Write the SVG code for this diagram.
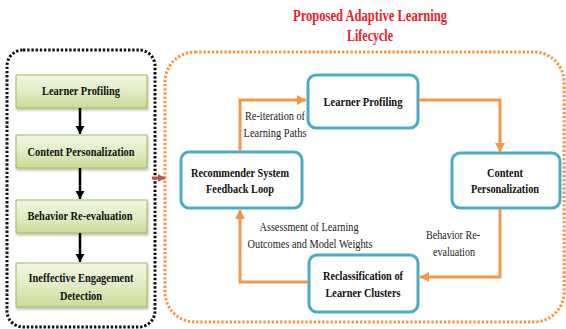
<svg xmlns="http://www.w3.org/2000/svg" width="566" height="329" viewBox="0 0 566 329">
  <defs>
    <linearGradient id="greenFill" x1="0" y1="0" x2="0" y2="1">
      <stop offset="0" stop-color="#f2f7e4"/>
      <stop offset="0.5" stop-color="#e1ecc4"/>
      <stop offset="1" stop-color="#c9dc95"/>
    </linearGradient>
    <filter id="shadow" x="-10%" y="-10%" width="130%" height="140%">
      <feDropShadow dx="1" dy="2" stdDeviation="1.2" flood-color="#000" flood-opacity="0.25"/>
    </filter>
    <marker id="arrowOrange" markerUnits="userSpaceOnUse" markerWidth="12" markerHeight="12" refX="9" refY="5" orient="auto">
      <path d="M0,0 L9,5 L0,10 Z" fill="#f79646"/>
    </marker>
    <marker id="arrowBlack" markerUnits="userSpaceOnUse" markerWidth="10" markerHeight="10" refX="8" refY="4.5" orient="auto">
      <path d="M0,0 L8,4.5 L0,9 Z" fill="#000"/>
    </marker>
    <marker id="arrowRed" markerUnits="userSpaceOnUse" markerWidth="10" markerHeight="10" refX="7" refY="4" orient="auto">
      <path d="M0,0 L7,4 L0,8 Z" fill="#c0504d"/>
    </marker>
  </defs>
  <style>
    .frame-black { fill: none; stroke: #111; stroke-width: 3; stroke-dasharray: 2.4 1.8; }
    .frame-orange { fill: none; stroke: #f79646; stroke-width: 3; stroke-dasharray: 2.4 1.8; }
    .step { fill: url(#greenFill); stroke: #9bbb59; stroke-width: 1; filter: url(#shadow); }
    .stage { fill: #fff; stroke: #4bacc6; stroke-width: 3; }
    .bold { font-family: "Liberation Serif", "Times New Roman", serif; font-weight: bold; font-size: 13px; fill: #111; text-anchor: middle; }
    .label { font-family: "Liberation Serif", "Times New Roman", serif; font-size: 13px; fill: #222; text-anchor: middle; }
    .title { font-family: "Liberation Serif", "Times New Roman", serif; font-weight: bold; font-size: 16px; fill: #e8202a; text-anchor: middle; }
    .flow { fill: none; stroke: #f79646; stroke-width: 3; marker-end: url(#arrowOrange); }
    .down { fill: none; stroke: #000; stroke-width: 2.5; marker-end: url(#arrowBlack); }
  </style>

  <!-- Title -->
  <text class="title" x="370" y="21" textLength="154" lengthAdjust="spacingAndGlyphs">Proposed Adaptive Learning</text>
  <text class="title" x="370" y="41" textLength="46" lengthAdjust="spacingAndGlyphs">Lifecycle</text>

  <!-- Frames -->
  <rect class="frame-black" x="7" y="50" width="148" height="277" rx="16"/>
  <rect class="frame-orange" x="165" y="52" width="399" height="270" rx="30"/>

  <!-- Existing linear process -->
  <g id="step-learner-profiling">
    <rect class="step" x="16" y="75" width="131" height="33"/>
    <text class="bold" x="81" y="95" textLength="78" lengthAdjust="spacingAndGlyphs">Learner Profiling</text>
  </g>
  <g id="step-content-personalization">
    <rect class="step" x="16" y="135" width="131" height="33"/>
    <text class="bold" x="81" y="156" textLength="107" lengthAdjust="spacingAndGlyphs">Content Personalization</text>
  </g>
  <g id="step-behavior-reevaluation">
    <rect class="step" x="16" y="200" width="131" height="33"/>
    <text class="bold" x="80" y="220" textLength="105" lengthAdjust="spacingAndGlyphs">Behavior Re-evaluation</text>
  </g>
  <g id="step-engagement-detection">
    <rect class="step" x="16" y="263" width="131" height="44"/>
    <text class="bold" x="81" y="282" textLength="105" lengthAdjust="spacingAndGlyphs">Ineffective Engagement</text>
    <text class="bold" x="81" y="300" textLength="42" lengthAdjust="spacingAndGlyphs">Detection</text>
  </g>

  <!-- Adaptive lifecycle stages -->
  <g id="stage-learner-profiling">
    <rect class="stage" x="308" y="75" width="110" height="53" rx="8"/>
    <text class="bold" x="363" y="106" textLength="79" lengthAdjust="spacingAndGlyphs">Learner Profiling</text>
  </g>
  <g id="stage-content-personalization">
    <rect class="stage" x="452" y="153" width="108" height="55" rx="8"/>
    <text class="bold" x="505" y="177" textLength="36" lengthAdjust="spacingAndGlyphs">Content</text>
    <text class="bold" x="505" y="193" textLength="68" lengthAdjust="spacingAndGlyphs">Personalization</text>
  </g>
  <g id="stage-reclassification">
    <rect class="stage" x="309" y="255" width="109" height="57" rx="8"/>
    <text class="bold" x="363" y="280" textLength="80" lengthAdjust="spacingAndGlyphs">Reclassification of</text>
    <text class="bold" x="363" y="297" textLength="75" lengthAdjust="spacingAndGlyphs">Learner Clusters</text>
  </g>
  <g id="stage-recommender">
    <rect class="stage" x="181" y="152" width="121" height="56" rx="8"/>
    <text class="bold" x="240" y="177" textLength="98" lengthAdjust="spacingAndGlyphs">Recommender System</text>
    <text class="bold" x="240" y="193" textLength="68" lengthAdjust="spacingAndGlyphs">Feedback Loop</text>
  </g>

  <!-- Connectors -->
  <g id="connectors">
    <path class="down" d="M80,108 V134"/>
    <path class="down" d="M80,168 V199"/>
    <path class="down" d="M80,233 V262"/>
    <path d="M152,178 H165" fill="none" stroke="#c0504d" stroke-width="3" marker-end="url(#arrowRed)"/>
    <path class="flow" d="M419,100 H500 V152"/>
    <path class="flow" d="M500,209 V277 H420"/>
    <path class="flow" d="M308,282 H240 V210"/>
    <path class="flow" d="M240,151 V100 H306"/>
  </g>

  <!-- Connector labels -->
  <g id="labels">
    <text class="label" x="275" y="120" textLength="60" lengthAdjust="spacingAndGlyphs">Re-iteration of</text>
    <text class="label" x="275" y="137" textLength="63" lengthAdjust="spacingAndGlyphs">Learning Paths</text>
    <text class="label" x="309" y="231" textLength="99" lengthAdjust="spacingAndGlyphs">Assessment of Learning</text>
    <text class="label" x="310" y="248" textLength="125" lengthAdjust="spacingAndGlyphs">Outcomes and Model Weights</text>
    <text class="label" x="453" y="239" textLength="54" lengthAdjust="spacingAndGlyphs">Behavior Re-</text>
    <text class="label" x="454" y="256" textLength="42" lengthAdjust="spacingAndGlyphs">evaluation</text>
  </g>
</svg>
